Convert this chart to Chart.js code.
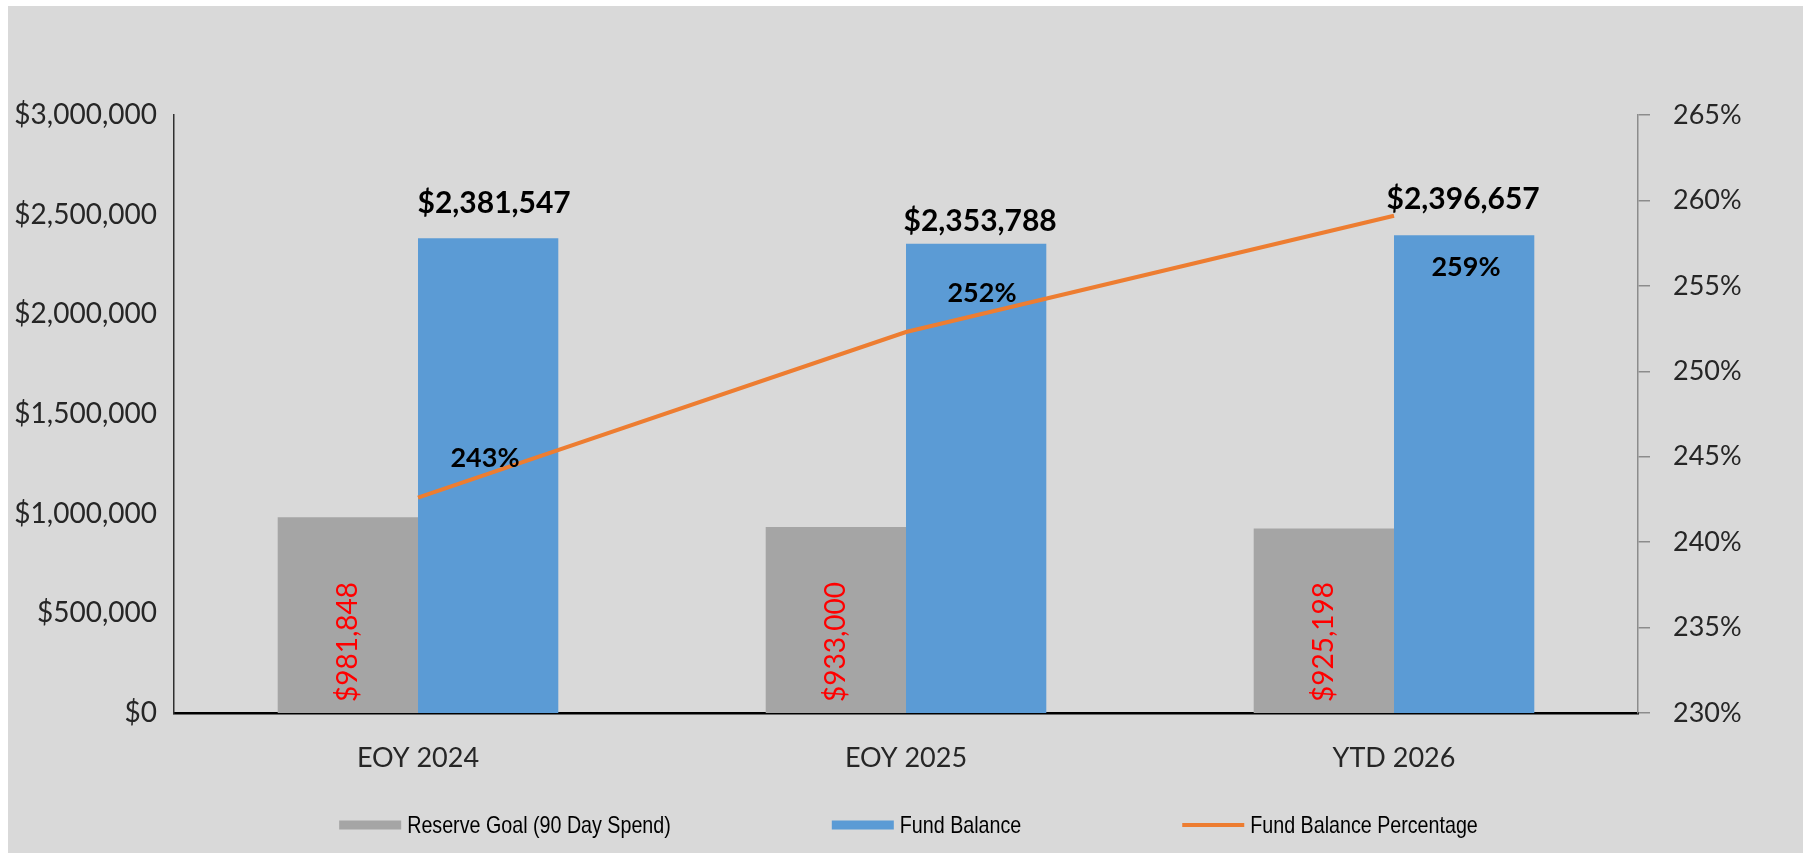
<!DOCTYPE html>
<html><head><meta charset="utf-8">
<script src="https://cdn.jsdelivr.net/npm/chart.js@4.4.1/dist/chart.umd.min.js"></script>
<style>
html,body{margin:0;padding:0;background:#fff;width:1803px;height:853px;overflow:hidden}
#wrap{position:absolute;left:8px;top:6px;width:1795px;height:847px;background:#d9d9d9}
</style></head><body>
<div id="wrap"><canvas id="c"></canvas></div>
<script>
const categories = ['EOY 2024', 'EOY 2025', 'YTD 2026'];
const reserveGoal = [981848, 933000, 925198];
const fundBalance = [2381547, 2353788, 2396657];
const fundBalancePct = [242.6, 252.3, 259.1];
const seriesNames = ['Reserve Goal (90 Day Spend)', 'Fund Balance', 'Fund Balance Percentage'];
const moneyAxis = { min: 0, max: 3000000, step: 500000 };
const pctAxis = { min: 230, max: 265, step: 5 };

const FONT = 'Lato, Calibri, "Open Sans", sans-serif';
const LEGEND_FONT = '"Liberation Sans", Arial, sans-serif';
const fmtMoney = v => '$' + Math.round(v).toLocaleString('en-US');

const labelPlugin = {
  id: 'valueLabels',
  afterDatasetsDraw(chart) {
    const ctx = chart.ctx;
    const base = chart.scales.y.getPixelForValue(0);
    ctx.save();
    // Reserve goal: rotated red labels near base
    const m0 = chart.getDatasetMeta(0);
    ctx.fillStyle = '#ff0000';
    ctx.font = '28px ' + FONT;
    ctx.textAlign = 'center';
    ctx.textBaseline = 'middle';
    m0.data.forEach((el, i) => {
      ctx.save();
      ctx.translate(el.x, base - 71);
      ctx.rotate(-Math.PI / 2);
      ctx.fillText(fmtMoney(reserveGoal[i]), 0, 0);
      ctx.restore();
    });
    // Fund balance: bold labels above bars
    const m1 = chart.getDatasetMeta(1);
    const fbDx = [6, 4, -1], fbDy = [-35, -22, -36];
    ctx.fillStyle = '#000';
    ctx.font = 'bold 30px ' + FONT;
    m1.data.forEach((el, i) => {
      ctx.fillText(fmtMoney(fundBalance[i]), el.x + fbDx[i], el.y + fbDy[i]);
    });
    // Percent labels
    const m2 = chart.getDatasetMeta(2);
    const pDx = [67, 76, 72], pDy = [-39, -39, 51];
    ctx.font = 'bold 27px ' + FONT;
    m2.data.forEach((el, i) => {
      ctx.fillText(Math.round(fundBalancePct[i]) + '%', el.x + pDx[i], el.y + pDy[i]);
    });
    ctx.restore();
  }
};

const legendPlugin = {
  id: 'customLegend',
  afterDraw(chart) {
    const ctx = chart.ctx;
    const ds = chart.data.datasets;
    const sx = 0.82;
    ctx.save();
    ctx.font = '24px ' + LEGEND_FONT;
    ctx.textBaseline = 'middle';
    ctx.textAlign = 'left';
    const boxW = 62, gapT = 6, gapItem = 161;
    const widths = ds.map(d => boxW + gapT + ctx.measureText(d.label).width * sx);
    const total = widths.reduce((a, b) => a + b, 0) + gapItem * (ds.length - 1);
    let x = chart.width / 2 - total / 2 + 3;
    const y = 819;
    ds.forEach((d, i) => {
      if (d.type === 'line') {
        ctx.fillStyle = d.borderColor;
        ctx.fillRect(x, y - 2, boxW, 4);
      } else {
        ctx.fillStyle = d.backgroundColor;
        ctx.fillRect(x, y - 4.5, boxW, 9);
      }
      ctx.fillStyle = '#000';
      ctx.save();
      ctx.translate(x + boxW + gapT, y + 1);
      ctx.scale(sx, 1);
      ctx.fillText(d.label, 0, 0);
      ctx.restore();
      x += widths[i] + gapItem;
    });
    ctx.restore();
  }
};

new Chart(document.getElementById('c'), {
  type: 'bar',
  data: {
    labels: categories,
    datasets: [
      { type: 'bar', label: seriesNames[0], data: reserveGoal, backgroundColor: '#a5a5a5', yAxisID: 'y', order: 1,
        categoryPercentage: 0.575, barPercentage: 1 },
      { type: 'bar', label: seriesNames[1], data: fundBalance, backgroundColor: '#5b9bd5', yAxisID: 'y', order: 1,
        categoryPercentage: 0.575, barPercentage: 1 },
      { type: 'line', label: seriesNames[2], data: fundBalancePct, borderColor: '#ed7d31', backgroundColor: '#ed7d31',
        borderWidth: 4, pointRadius: 0, yAxisID: 'y1', order: 0, tension: 0 }
    ]
  },
  options: {
    responsive: true,
    maintainAspectRatio: false,
    animation: false,
    layout: { padding: { top: 109, left: 0, right: 0, bottom: 0 } },
    plugins: { legend: { display: false }, tooltip: { enabled: false } },
    scales: {
      x: {
        grid: { display: false },
        border: { display: true, color: '#000', width: 2.5 },
        ticks: { color: '#262626', font: { family: FONT, size: 27 }, padding: 21 },
        afterFit: s => { s.height = 140; }
      },
      y: {
        position: 'left',
        min: moneyAxis.min, max: moneyAxis.max,
        grid: { display: false },
        border: { display: true, color: '#303030', width: 1.5 },
        ticks: { stepSize: moneyAxis.step, color: '#262626', font: { family: FONT, size: 28 }, padding: 9,
                 callback: v => fmtMoney(v) },
        afterFit: s => { s.width = 166; }
      },
      y1: {
        position: 'right',
        min: pctAxis.min, max: pctAxis.max,
        grid: { display: true, drawOnChartArea: false, drawTicks: true, tickLength: 12, color: '#8c8c8c', lineWidth: 1.5 },
        border: { display: true, color: '#8c8c8c', width: 1.5 },
        ticks: { stepSize: pctAxis.step, color: '#262626', font: { family: FONT, size: 27 }, padding: 23,
                 callback: v => v + '%' },
        afterFit: s => { s.width = 165; }
      }
    }
  },
  plugins: [labelPlugin, legendPlugin]
});
</script>
</body></html>
